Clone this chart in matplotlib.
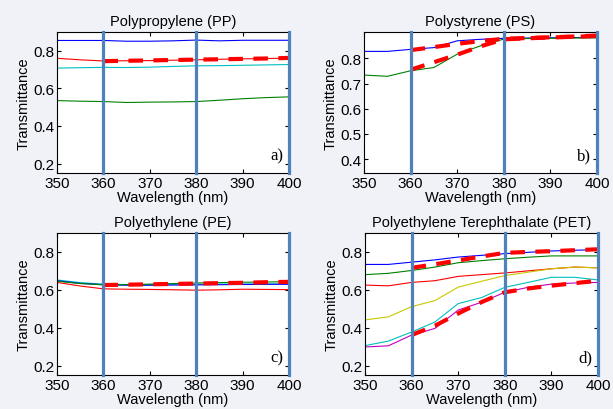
import matplotlib
matplotlib.use("Agg")
import matplotlib.pyplot as plt
import numpy as np

plt.rcParams['font.family'] = ['Liberation Sans', 'DejaVu Sans']

wl = [350, 355, 360, 365, 370, 375, 380, 385, 390, 395, 400]
wl_fit = [360, 365, 370, 375, 380, 385, 390, 395, 400]

# Polypropylene (PP)
pp_blue = [0.855, 0.855, 0.855, 0.851, 0.851, 0.853, 0.857, 0.853, 0.856, 0.856, 0.856]
pp_red = [0.760, 0.752, 0.746, 0.747, 0.748, 0.750, 0.752, 0.755, 0.757, 0.759, 0.761]
pp_cyan = [0.708, 0.710, 0.712, 0.711, 0.713, 0.717, 0.720, 0.721, 0.723, 0.725, 0.727]
pp_green = [0.535, 0.532, 0.530, 0.525, 0.527, 0.528, 0.530, 0.537, 0.545, 0.551, 0.555]
pp_fit = [0.745, 0.747, 0.749, 0.751, 0.753, 0.755, 0.757, 0.759, 0.762]

# Polystyrene (PS)
ps_blue = [0.828, 0.828, 0.836, 0.843, 0.870, 0.876, 0.880, 0.881, 0.882, 0.883, 0.883]
ps_green = [0.734, 0.729, 0.751, 0.764, 0.817, 0.850, 0.877, 0.879, 0.880, 0.881, 0.882]
ps_fit1 = [0.833, 0.845, 0.858, 0.869, 0.878, 0.881, 0.884, 0.887, 0.891]
ps_fit2 = [0.755, 0.785, 0.815, 0.848, 0.876, 0.880, 0.883, 0.886, 0.889]

# Polyethylene (PE)
pe_red = [0.639, 0.620, 0.605, 0.603, 0.602, 0.600, 0.598, 0.600, 0.603, 0.602, 0.601]
pe_cyan = [0.652, 0.638, 0.630, 0.628, 0.628, 0.629, 0.630, 0.630, 0.631, 0.631, 0.632]
pe_blue = [0.648, 0.634, 0.627, 0.624, 0.624, 0.625, 0.626, 0.627, 0.628, 0.629, 0.629]
pe_green = [0.645, 0.633, 0.626, 0.627, 0.630, 0.633, 0.636, 0.638, 0.640, 0.641, 0.643]
pe_fit = [0.625, 0.627, 0.629, 0.631, 0.633, 0.635, 0.637, 0.640, 0.642]

# Polyethylene Terephthalate (PET)
pet_blue = [0.734, 0.734, 0.746, 0.758, 0.773, 0.782, 0.791, 0.798, 0.805, 0.809, 0.812]
pet_green = [0.680, 0.687, 0.702, 0.720, 0.743, 0.754, 0.764, 0.772, 0.779, 0.779, 0.779]
pet_red = [0.625, 0.621, 0.639, 0.648, 0.671, 0.680, 0.689, 0.700, 0.711, 0.720, 0.716]
pet_yellow = [0.441, 0.457, 0.511, 0.543, 0.614, 0.645, 0.675, 0.693, 0.711, 0.720, 0.716]
pet_cyan = [0.305, 0.329, 0.377, 0.430, 0.527, 0.559, 0.613, 0.639, 0.666, 0.666, 0.652]
pet_magenta = [0.298, 0.304, 0.361, 0.396, 0.493, 0.534, 0.587, 0.613, 0.630, 0.636, 0.639]
pet_fit1 = [0.716, 0.735, 0.755, 0.776, 0.795, 0.800, 0.804, 0.809, 0.814]
pet_fit2 = [0.361, 0.410, 0.475, 0.535, 0.587, 0.607, 0.622, 0.635, 0.648]

panels = [
    dict(title='Polypropylene (PP)', tag='a)', ylim=(0.15, 0.9), yticks=[0.2, 0.4, 0.6, 0.8],
         lines=[(pp_blue, 'blue'), (pp_red, 'red'), (pp_cyan, 'c'), (pp_green, 'green')],
         fits=[pp_fit]),
    dict(title='Polystyrene (PS)', tag='b)', ylim=(0.345, 0.905), yticks=[0.4, 0.5, 0.6, 0.7, 0.8],
         lines=[(ps_blue, 'blue'), (ps_green, 'green')],
         fits=[ps_fit1, ps_fit2]),
    dict(title='Polyethylene (PE)', tag='c)', ylim=(0.15, 0.9), yticks=[0.2, 0.4, 0.6, 0.8],
         lines=[(pe_red, 'red'), (pe_cyan, 'c'), (pe_blue, 'blue'), (pe_green, 'green')],
         fits=[pe_fit]),
    dict(title='Polyethylene Terephthalate (PET)', tag='d)', ylim=(0.15, 0.9), yticks=[0.2, 0.4, 0.6, 0.8],
         lines=[(pet_blue, 'blue'), (pet_green, 'green'), (pet_red, 'red'), (pet_yellow, '#c8c800'),
                (pet_cyan, 'c'), (pet_magenta, 'm')],
         fits=[pet_fit1, pet_fit2]),
]

fig = plt.figure(figsize=(6.13, 4.10), dpi=100, facecolor='#f0f2f8')
W, H = 613, 410
boxes = [(57, 33, 289, 174), (364, 33, 597, 174), (57, 234, 289, 376), (365, 234, 598, 376)]

for p, (x0, y0, x1, y1) in zip(panels, boxes):
    ax = fig.add_axes([x0 / W, 1 - y1 / H, (x1 - x0) / W, (y1 - y0) / H])
    for vals, col in p['lines']:
        ax.plot(wl, vals, color=col, lw=0.8)
    for fit in p['fits']:
        ax.plot(wl_fit, fit, color='red', lw=3, ls=(0, (3.5, 2.5)))
    for xv in [360, 380, 400]:
        ax.axvline(xv, color='#4f81bd', lw=2.3, clip_on=False, zorder=5)
    ax.set_xlim(350, 400)
    ax.set_ylim(*p['ylim'])
    ax.set_xticks([350, 360, 370, 380, 390, 400])
    ax.set_yticks(p['yticks'])
    ax.tick_params(direction='in', top=True, right=True, labelsize=11, length=3, pad=2)
    ax.set_title(p['title'], fontsize=10.5, pad=5)
    ax.set_xlabel('Wavelength (nm)', fontsize=10.5, labelpad=0.5)
    ax.set_ylabel('Transmittance', fontsize=10.5, labelpad=2)
    ax.text(0.975, 0.07, p['tag'], transform=ax.transAxes, ha='right', va='bottom',
            fontsize=12, family='Liberation Serif')

fig.savefig('out.png', dpi=100, facecolor=fig.get_facecolor())
